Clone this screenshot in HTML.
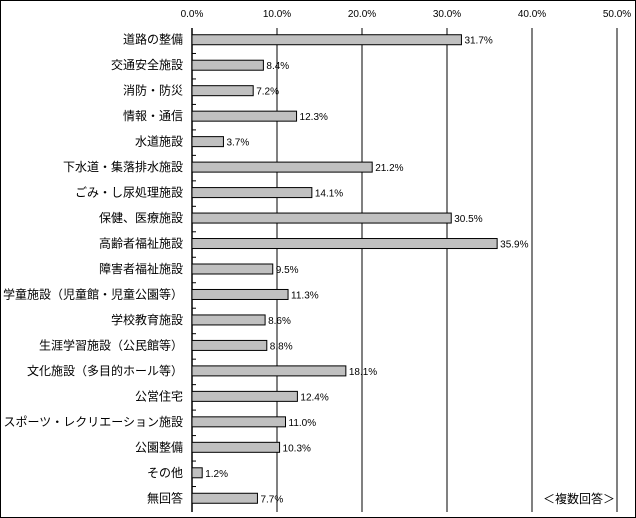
<!DOCTYPE html>
<html><head><meta charset="utf-8"><style>
body{margin:0;background:#fff;}
svg{display:block;font-family:"Liberation Sans","Noto Sans CJK JP",sans-serif;}
</style></head><body>
<svg id="c" width="636" height="518">
<rect x="0.5" y="0.5" width="635" height="517" fill="#fff" stroke="#000"/>
<g id="g"></g>
<text x="579" y="503" font-size="12" text-anchor="middle">＜複数回答＞</text>
</svg>
<script>
const categories=["道路の整備","交通安全施設","消防・防災","情報・通信","水道施設","下水道・集落排水施設","ごみ・し尿処理施設","保健、医療施設","高齢者福祉施設","障害者福祉施設","学童施設（児童館・児童公園等）","学校教育施設","生涯学習施設（公民館等）","文化施設（多目的ホール等）","公営住宅","スポーツ・レクリエーション施設","公園整備","その他","無回答"];
const values=[31.7,8.4,7.2,12.3,3.7,21.2,14.1,30.5,35.9,9.5,11.3,8.6,8.8,18.1,12.4,11.0,10.3,1.2,7.7];
const ticks=[0,10,20,30,40,50];
const NS="http://www.w3.org/2000/svg";
const g=document.getElementById('g');
const x0=192,x1=617,plotTop=28,plotBot=512,max=50;
const xs=v=>x0+(v/max)*(x1-x0);
const rowH=(plotBot-plotTop)/categories.length;
function mk(t,a){const e=document.createElementNS(NS,t);for(const k in a)e.setAttribute(k,a[k]);g.appendChild(e);return e;}
ticks.forEach(t=>{
 if(t>0){const l=mk('line',{x1:xs(t),x2:xs(t),y1:plotTop,y2:plotBot,stroke:'#000','stroke-width':1});
 
 }
 const tx=mk('text',{x:xs(t),y:17,'font-size':10,'text-anchor':'middle'});
 tx.textContent=t.toFixed(1)+'%';
 
 
});
const ax=mk('line',{x1:x0,x2:x0,y1:plotTop,y2:plotBot,stroke:'#000','stroke-width':1.5});


categories.forEach((c,i)=>{
 const yc=plotTop+rowH*(i+0.5)-1;
 if(i>0){const tk=mk('line',{x1:x0,x2:x0+4,y1:plotTop+rowH*i,y2:plotTop+rowH*i,stroke:'#000'});
 
 }
 const lb=mk('text',{x:183,y:yc+4,'font-size':12,'text-anchor':'end'});
 lb.textContent=c;
 
 
 const b=mk('rect',{x:x0,y:yc-5,width:xs(values[i])-x0,height:10,fill:'#c0c0c0',stroke:'#000','stroke-width':1});
 
 
 const vl=mk('text',{x:xs(values[i])+3,y:yc+4,'font-size':10});
 vl.textContent=values[i].toFixed(1)+'%';
 
 
});
</script>
</body></html>
